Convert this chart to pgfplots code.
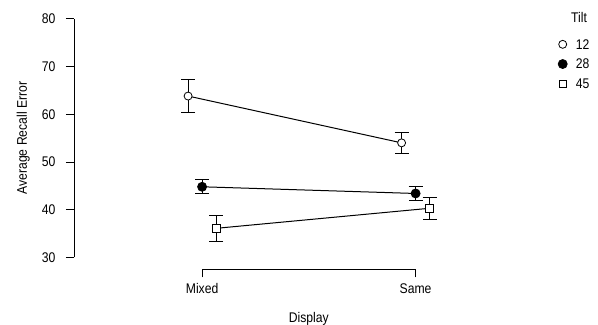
\documentclass[border=0pt]{standalone}
\usepackage{fontspec}
\setmainfont{Liberation Sans}[FakeStretch=0.87]
\usepackage{pgfplots}
\pgfplotsset{compat=1.18}
\usepackage{pgfplotstable}

\pgfplotstableread{
x y e
-0.0656 63.8 3.4
0.9344 54.0 2.26
}\tiltA
\pgfplotstableread{
x y e
0 44.8 1.47
1 43.4 1.47
}\tiltB
\pgfplotstableread{
x y e
0.0656 36.1 2.7
1.0656 40.3 2.26
}\tiltC

\newcommand\fs{\fontsize{14bp}{16bp}\selectfont}
\pgfplotsset{myerr/.style={error bars/.cd, y dir=both, y explicit,
    error bar style={black, line width=0.8bp},
    error mark options={black, line width=0.8bp, mark size=7bp, rotate=90}}}

\begin{document}
\begin{tikzpicture}
\begin{axis}[
  scale only axis, width=469.7bp, height=250.7bp,
  xmin=-0.6, xmax=1.6, ymin=27.5, ymax=80,
  axis line style={draw=none},
  clip=false,
  xtick={0,1}, xticklabels={Mixed,Same},
  ytick={30,40,...,80},
  tick align=outside, xtick pos=bottom, ytick pos=left,
  major tick length=8bp,
  tick style={black, line width=0.8bp},
  /pgf/number format/assume math mode=true,
  tick label style={font=\fs},
  yticklabel style={xshift=-7bp},
  xticklabel style={yshift=-2.5bp},
  label style={font=\fs},
  xlabel={Display}, ylabel={Average Recall Error},
  xlabel style={yshift=-12bp},
  ylabel style={at={(axis cs:-0.806,55)}, anchor=south, inner sep=0pt},
  legend style={at={(axis cs:1.667,75.9)}, anchor=north west, draw=none, fill=none,
    inner sep=0pt, row sep=8bp, column sep=7.7bp, font=\fs,
    nodes={inner sep=1bp, text height=9.7bp, text depth=0bp}},
  legend cell align=left,
  legend image code/.code={\draw[#1,only marks] plot coordinates {(0bp,0bp)};},
]
\addplot[black, line width=1bp, mark=*, mark size=4bp, mark options={fill=white, draw=black, line width=0.8bp}, myerr]
  table[x=x, y=y, y error=e] {\tiltA};
\addlegendentry{12}
\addplot[black, line width=1bp, mark=*, mark size=4.5bp, mark options={fill=black, draw=black, line width=0.8bp}, myerr]
  table[x=x, y=y, y error=e] {\tiltB};
\addlegendentry{28}
\addplot[black, line width=1bp, mark=square*, mark size=3.8bp, mark options={fill=white, draw=black, line width=0.8bp}, myerr]
  table[x=x, y=y, y error=e] {\tiltC};
\addlegendentry{45}
\draw[black, line width=0.8bp] (axis cs:0,27.5) -- (axis cs:1,27.5);
\draw[black, line width=0.8bp] (axis cs:-0.6,30) -- (axis cs:-0.6,80);
\node[font=\fs, anchor=base west, inner sep=0pt] at (axis cs:1.728,79.1) {Tilt};
\end{axis}
\pgfresetboundingbox
\path[use as bounding box] (-74bp,-55.6bp) rectangle (524bp,269.4bp);
\end{tikzpicture}
\end{document}
